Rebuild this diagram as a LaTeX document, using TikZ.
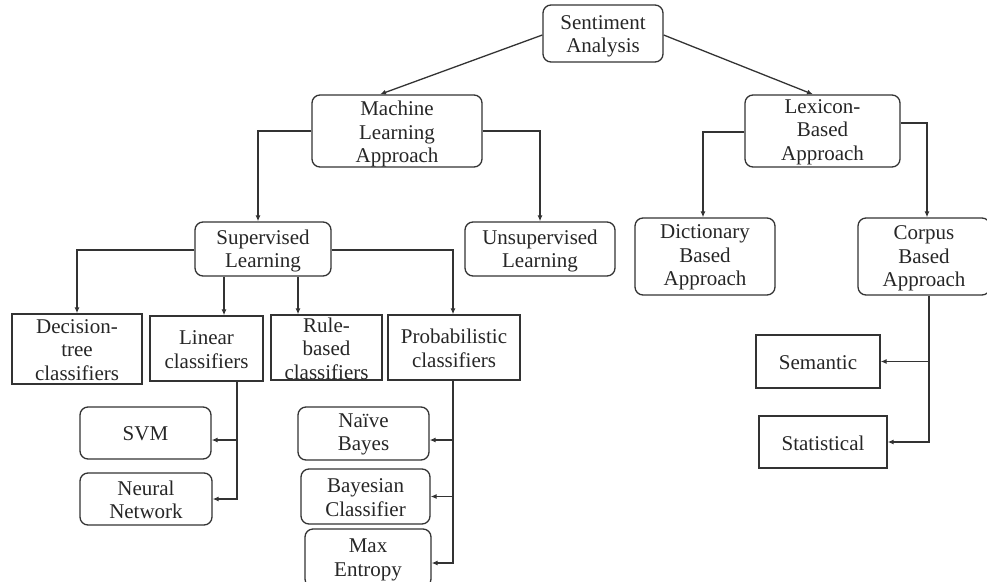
\documentclass[tikz,border=0pt]{standalone}
\usepackage{fontspec}
\setmainfont{Liberation Serif}
\usetikzlibrary{arrows.meta}
\begin{document}
\begin{tikzpicture}[x=1pt,y=-1pt,
  every node/.style={inner sep=0pt},
  lbl/.style={font=\fontsize{21}{23.5}\selectfont, align=center, text=black!85},
  rbox/.style={draw=black!80, line width=1.3pt, rounded corners=8pt},
  sbox/.style={draw=black!80, line width=1.3pt},
  conn/.style={draw=black!80, line width=1.3pt},
  arr/.style={conn, -{Latex[length=6pt,width=5pt]}}]
\clip (0,0) rectangle (987,581);
\useasboundingbox (0,0) rectangle (987,581);
% boxes
\node[rbox, minimum width=120pt, minimum height=57pt] (sa) at (603,33.5) {};
\node[rbox, minimum width=170pt, minimum height=72pt] (ml) at (397,131) {};
\node[rbox, minimum width=155pt, minimum height=72pt] (lex) at (822.5,131) {};
\node[rbox, minimum width=136pt, minimum height=54pt] (sup) at (263,249) {};
\node[rbox, minimum width=150pt, minimum height=54pt] (uns) at (540,249) {};
\node[rbox, minimum width=140pt, minimum height=77pt] (dict) at (705,256.5) {};
\node[rbox, minimum width=132pt, minimum height=77pt] (corp) at (924,256.5) {};
\node[sbox, minimum width=130pt, minimum height=70pt] (dt) at (77,349) {};
\node[sbox, minimum width=113pt, minimum height=65pt] (lin) at (206.5,348.5) {};
\node[sbox, minimum width=111pt, minimum height=65pt] (rule) at (326.5,347.5) {};
\node[sbox, minimum width=132pt, minimum height=65pt] (prob) at (454,347.5) {};
\node[rbox, minimum width=131pt, minimum height=52pt] (svm) at (145.5,433) {};
\node[rbox, minimum width=132pt, minimum height=52pt] (nn) at (146,499) {};
\node[rbox, minimum width=131pt, minimum height=53pt] (nb) at (363.5,433.5) {};
\node[rbox, minimum width=129pt, minimum height=55pt] (bc) at (365.5,496.5) {};
\node[rbox, minimum width=126pt, minimum height=58pt] (me) at (368,558) {};
\node[sbox, minimum width=124pt, minimum height=53pt] (sem) at (818,361.5) {};
\node[sbox, minimum width=128pt, minimum height=52pt] (stat) at (823,442) {};
% texts
\node[lbl] (sa-t) at ([yshift=-3pt]sa) {Sentiment\\Analysis};
\node[lbl] (ml-t) at ([yshift=-3pt]ml) {Machine\\Learning\\Approach};
\node[lbl] (lex-t) at ([yshift=-1pt]lex) {Lexicon-\\Based\\Approach};
\node[lbl] (sup-t) at ([yshift=-2pt]sup) {Supervised\\Learning};
\node[lbl] (uns-t) at ([yshift=-2pt]uns) {Unsupervised\\Learning};
\node[lbl] (dict-t) at ([yshift=-1pt]dict) {Dictionary\\Based\\Approach};
\node[lbl] (corp-t) at ([yshift=-2pt]corp) {Corpus\\Based\\Approach};
\node[lbl] (dt-t) at ([yshift=-1pt]dt) {Decision-\\tree\\classifiers};
\node[lbl] (lin-t) at ([yshift=-1pt]lin) {Linear\\classifiers};
\node[lbl] (rule-t) at ([yshift=-1pt]rule) {Rule-\\based\\classifiers};
\node[lbl] (prob-t) at ([yshift=-1pt]prob) {Probabilistic\\classifiers};
\node[lbl] (svm-t) at ([yshift=-1pt]svm) {SVM};
\node[lbl] (nn-t) at ([yshift=-1pt]nn) {Neural\\Network};
\node[lbl] (nb-t) at ([yshift=-1pt]nb) {Naïve\\Bayes};
\node[lbl] (bc-t) at ([yshift=-1pt]bc) {Bayesian\\Classifier};
\node[lbl] (me-t) at ([yshift=-2pt]me) {Max\\Entropy};
\node[lbl] (sem-t) at ([yshift=-1pt]sem) {Semantic};
\node[lbl] (stat-t) at ([yshift=-1pt]stat) {Statistical};
% connectors
\draw[arr] ([yshift=-1.5pt]sa.west) -- ([xshift=-17pt]ml.north);
\draw[arr] ([yshift=-1.5pt]sa.east) -- ([xshift=-9.5pt]lex.north);
\draw[arr] (ml.west) -| ([xshift=-5pt]sup.north);
\draw[arr] (ml.east) -| (uns.north);
\draw[arr] ([yshift=-1pt]lex.west) -| ([xshift=-2pt]dict.north);
\draw[arr] ([yshift=8pt]lex.east) -| ([xshift=3pt]corp.north);
\draw[arr] ([yshift=-1pt]sup.west) -| (dt.north);
\draw[arr] ([yshift=-1pt]sup.east) -| ([xshift=-1pt]prob.north);
\draw[arr] ([xshift=-39pt]sup.south) -- ([xshift=-39pt]sup.south |- lin.north);
\draw[arr] ([xshift=35pt]sup.south) -- ([xshift=35pt]sup.south |- rule.north);
% linear children
\coordinate (lv) at ([xshift=30.5pt]lin.south);
\draw[arr] (lv) |- (nn.east);
\draw[arr] ([yshift=-7pt]svm.east -| lv) -- ([yshift=-7pt]svm.east);
% probabilistic children
\coordinate (pv) at ([xshift=-1pt]prob.south);
\draw[arr] (pv) |- ([yshift=-5pt]me.east);
\draw[arr] ([yshift=-6.5pt]nb.east -| pv) -- ([yshift=-6.5pt]nb.east);
\draw[arr] (bc.east -| pv) -- (bc.east);
% corpus children
\coordinate (cv) at ([xshift=5pt]corp.south);
\draw[arr] (cv) |- (stat.east);
\draw[arr] (sem.east -| cv) -- (sem.east);
\end{tikzpicture}
\end{document}
